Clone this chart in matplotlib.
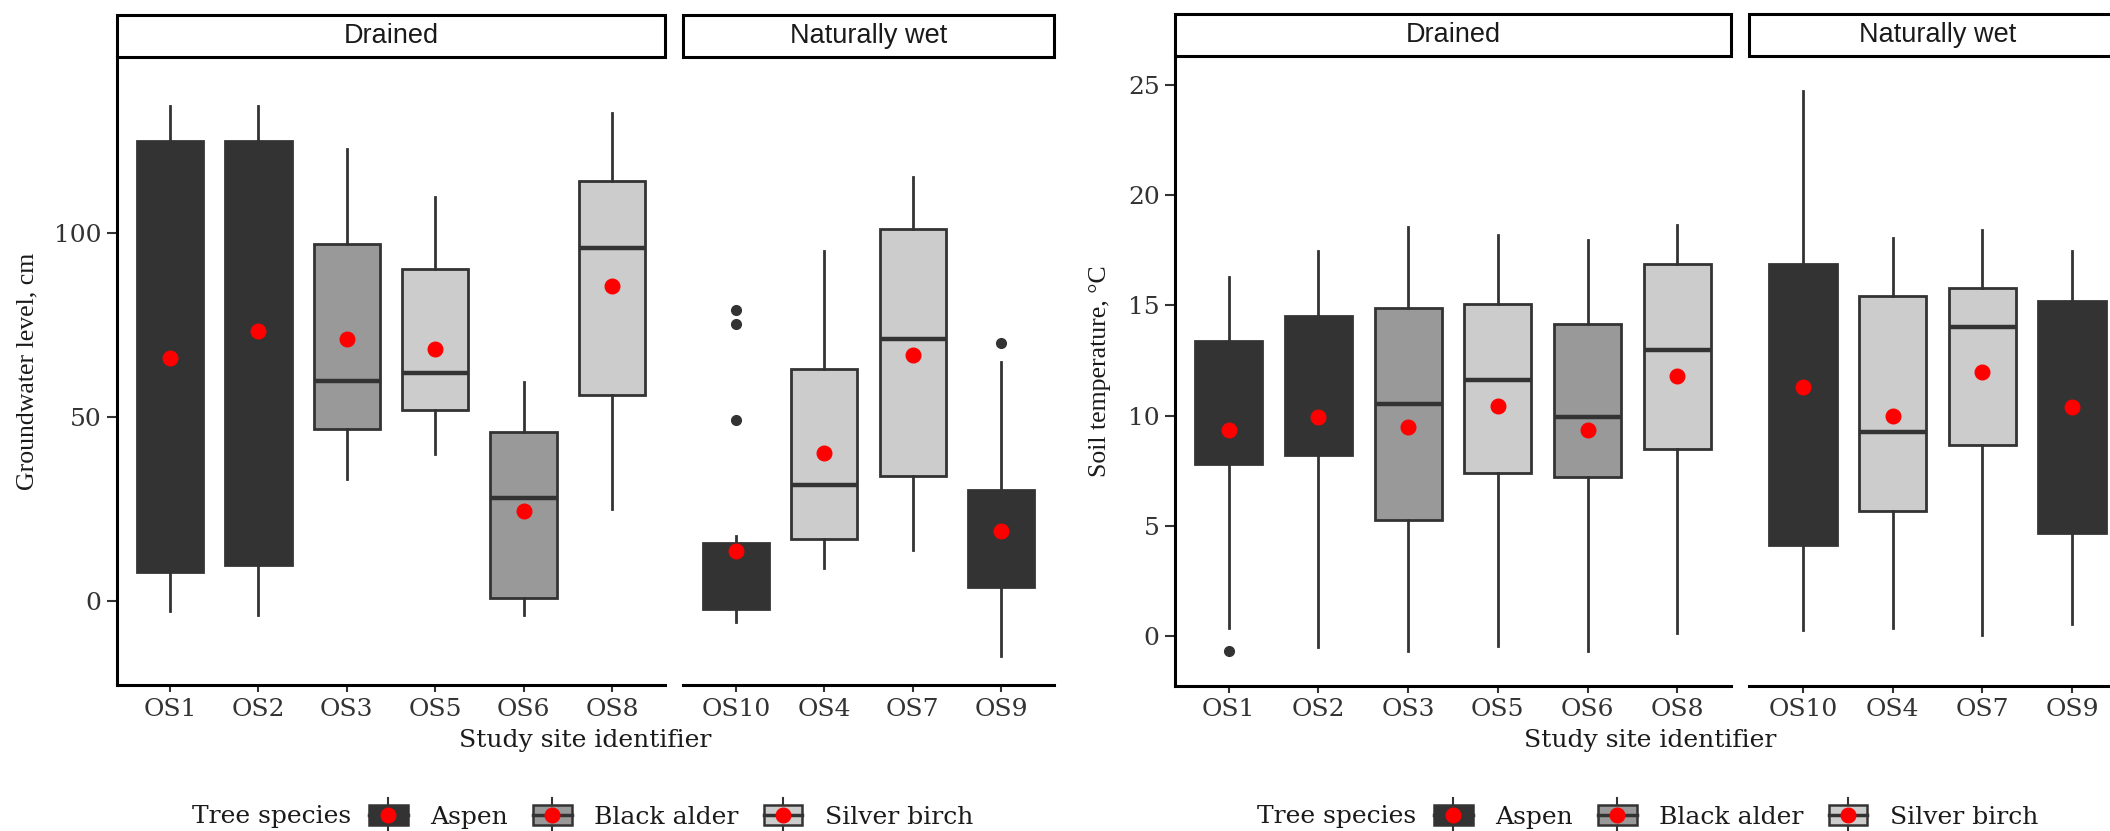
"""
Groundwater level and soil temperature by study site, faceted by drainage.
"""

import matplotlib
matplotlib.use('Agg')
import matplotlib.pyplot as plt
from matplotlib.patches import Rectangle, Patch
from matplotlib.lines import Line2D
from matplotlib.legend_handler import HandlerBase

# ---- data ----
sites = ['OS1', 'OS2', 'OS3', 'OS5', 'OS6', 'OS8', 'OS10', 'OS4', 'OS7', 'OS9']
species = ['Aspen', 'Aspen', 'Black alder', 'Silver birch', 'Black alder',
           'Silver birch', 'Aspen', 'Silver birch', 'Silver birch', 'Aspen']
drained_idx = [0, 1, 2, 3, 4, 5]
wet_idx = [6, 7, 8, 9]
facets = ['Drained', 'Naturally wet']
species_names = ['Aspen', 'Black alder', 'Silver birch']

gw_whislo = [-2.7, -3.8, 33.3, 40.1, -3.8, 25.2, -5.6, 9.1, 14.1, -14.7]
gw_q1 = [7.9, 9.8, 46.9, 52.0, 0.8, 56.1, -2.1, 16.9, 34.2, 3.8]
gw_med = [70.0, 75.0, 59.9, 62.1, 28.2, 95.9, 5.0, 31.7, 71.3, 15.0]
gw_q3 = [125.2, 125.2, 97.0, 90.2, 46.1, 114.1, 16.0, 63.2, 101.3, 30.3]
gw_whishi = [134.7, 134.7, 122.8, 109.8, 59.6, 132.8, 17.8, 95.1, 115.4, 65.1]
gw_mean = [66.1, 73.4, 71.3, 68.6, 24.7, 85.6, 13.8, 40.3, 66.9, 19.2]
gw_out = [[], [], [], [], [], [], [79.1, 75.3, 49.2], [], [], [70.3]]

st_whislo = [0.38, -0.52, -0.67, -0.46, -0.67, 0.15, 0.27, 0.38, 0.04, 0.56]
st_q1 = [7.8, 8.19, 5.25, 7.4, 7.21, 8.5, 4.13, 5.69, 8.65, 4.69]
st_med = [10.0, 11.0, 10.52, 11.6, 9.92, 12.98, 11.0, 9.23, 14.02, 10.0]
st_q3 = [13.4, 14.5, 14.88, 15.06, 14.17, 16.88, 16.88, 15.42, 15.79, 15.21]
st_whishi = [16.3, 17.46, 18.56, 18.17, 17.96, 18.65, 24.73, 18.06, 18.44, 17.46]
st_mean = [9.33, 9.94, 9.48, 10.44, 9.35, 11.81, 11.29, 10.0, 11.98, 10.38]
st_out = [[-0.67], [], [], [], [], [], [], [], [], []]

# ---- style ----
W, H = 2110, 831
SERIF = 'DejaVu Serif'        # wide serif, matches the stretched labels
YSERIF = 'Liberation Serif'   # rotated axis titles
SANS = 'Liberation Sans'
EDGE = '#333333'
FILL = {'Aspen': '#333333', 'Black alder': '#999999', 'Silver birch': '#CCCCCC'}
TXT = 18


def px_axes(fig, x0, x1, y0, y1):
    return fig.add_axes([x0 / W, 1 - y1 / H, (x1 - x0) / W, (y1 - y0) / H])


def draw_panel(ax, idx, data, ylim, yticks, title, first):
    whislo, q1, med, q3, whishi, mean, out = data
    stats = [dict(label=sites[i], whislo=whislo[i], q1=q1[i], med=med[i],
                  q3=q3[i], whishi=whishi[i], mean=mean[i], fliers=out[i])
             for i in idx]
    art = ax.bxp(stats, positions=list(range(1, len(idx) + 1)), widths=0.75,
                 patch_artist=True, showmeans=True, showcaps=False,
                 boxprops=dict(edgecolor=EDGE, linewidth=2.0),
                 medianprops=dict(color=EDGE, linewidth=3.2),
                 whiskerprops=dict(color=EDGE, linewidth=2.0),
                 flierprops=dict(marker='o', markerfacecolor=EDGE,
                                 markeredgecolor=EDGE, markersize=7),
                 meanprops=dict(marker='o', markerfacecolor='red',
                                markeredgecolor='red', markersize=10.5))
    for box, i in zip(art['boxes'], idx):
        box.set_facecolor(FILL[species[i]])

    ax.set_xlim(0.4, len(idx) + 0.6)
    ax.set_ylim(*ylim)
    for s in ['top', 'right']:
        ax.spines[s].set_visible(False)
    ax.spines['bottom'].set_linewidth(2.2)
    ax.spines['left'].set_linewidth(2.2)
    ax.tick_params(axis='x', length=5, width=1.5, color=EDGE, pad=4,
                   labelsize=TXT, labelcolor='#333333')
    if first:
        ax.set_yticks(yticks)
        ax.tick_params(axis='y', length=7, width=1.5, color=EDGE, pad=4,
                       labelsize=TXT, labelcolor='#333333')
    else:
        ax.spines['left'].set_visible(False)
        ax.set_yticks([])
    for lab in ax.get_xticklabels() + ax.get_yticklabels():
        lab.set_family(SERIF)

    # facet strip
    strip_h = 42 / (ax.get_position().height * H)
    ax.add_patch(Rectangle((0, 1), 1, strip_h, transform=ax.transAxes,
                           facecolor='white', edgecolor='black', lw=2.2,
                           clip_on=False))
    ax.text(0.5, 1 + strip_h / 2, title, transform=ax.transAxes,
            ha='center', va='center', family=SANS, size=19.5,
            color='#1a1a1a')


class BoxKey(HandlerBase):
    def create_artists(self, legend, orig_handle, xdescent, ydescent,
                       width, height, fontsize, trans):
        fc = orig_handle.get_facecolor()
        x0, y0 = -xdescent, -ydescent
        xc, yc = x0 + width / 2, y0 + height / 2
        whisk = Line2D([xc, xc], [y0 - 0.4 * height, y0 + 1.4 * height],
                       color=EDGE, lw=1.5, transform=trans)
        box = Rectangle((x0, y0), width, height, facecolor=fc,
                        edgecolor=EDGE, lw=1.8, transform=trans)
        med = Line2D([x0, x0 + width], [yc, yc], color=EDGE, lw=2.5,
                     transform=trans)
        dot = Line2D([xc], [yc], marker='o', color='red', ms=10.5,
                     transform=trans)
        return [whisk, box, med, dot]


def draw_chart(fig, xs, ys, data, ylim, yticks, ylabel, ylabel_x, leg_x):
    (d0, d1), (w0, w1) = xs
    y0, y1 = ys
    ax_d = px_axes(fig, d0, d1, y0, y1)
    ax_w = px_axes(fig, w0, w1, y0, y1)
    draw_panel(ax_d, drained_idx, data, ylim, yticks, facets[0], True)
    draw_panel(ax_w, wet_idx, data, ylim, yticks, facets[1], False)

    fig.text((d0 + w1) / 2 / W, 1 - 740 / H, 'Study site identifier',
             ha='center', va='center', family=SERIF, size=TXT,
             color='#1a1a1a')
    fig.text(ylabel_x / W, 1 - (y0 + y1) / 2 / H, ylabel, rotation=90,
             ha='center', va='center', family=YSERIF, size=18.5,
             color='#1a1a1a')

    title_x, keys_x = leg_x
    fig.text(title_x / W, 1 - 817 / H, 'Tree species', ha='left',
             va='center', family=SERIF, size=TXT, color='#1a1a1a')
    handles = [Patch(facecolor=FILL[s]) for s in species_names]
    leg = fig.legend(handles, species_names, loc='center left',
                     bbox_to_anchor=(keys_x / W, 1 - 817 / H), ncol=3,
                     frameon=False, borderpad=0, borderaxespad=0,
                     handlelength=1.55, handleheight=0.8,
                     handletextpad=0.9, columnspacing=1.0,
                     handler_map={Patch: BoxKey()},
                     prop=dict(family=SERIF, size=TXT))
    for t in leg.get_texts():
        t.set_color('#1a1a1a')


fig = plt.figure(figsize=(W / 100, H / 100), dpi=100)

draw_chart(fig, [(117, 665), (683, 1054)], (57, 685),
           (gw_whislo, gw_q1, gw_med, gw_q3, gw_whishi, gw_mean, gw_out),
           (-22.7, 147.9), [0, 50, 100], 'Groundwater level, cm', 27,
           (192, 369))
draw_chart(fig, [(1175, 1731), (1749, 2126)], (56.5, 685.5),
           (st_whislo, st_q1, st_med, st_q3, st_whishi, st_mean, st_out),
           (-2.25, 26.29), [0, 5, 10, 15, 20, 25], 'Soil temperature, °C',
           1100, (1257, 1434))

fig.savefig('out.png', dpi=100)
